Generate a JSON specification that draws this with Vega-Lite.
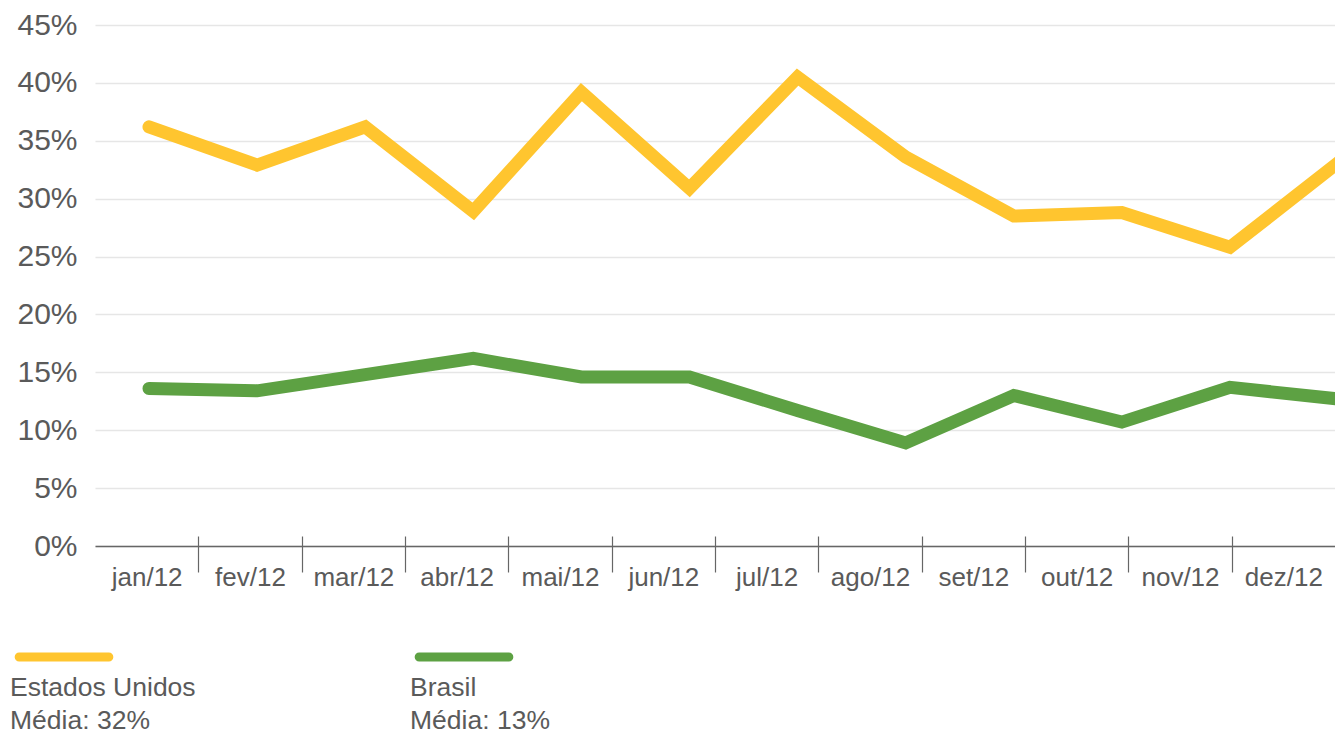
{
  "$schema": "https://vega.github.io/schema/vega-lite/v6.json",
  "background": "white",
  "padding": {"left": 10, "top": 10, "right": 0, "bottom": 0},
  "bounds": "flush",
  "spacing": 101,
  "config": {"view": {"stroke": null}, "font": "Liberation Sans"},
  "vconcat": [
    {
      "width": 1240,
      "height": 521,
      "data": {"values": [
        {"mes": "jan/12", "pais": "Estados Unidos", "valor": 0.362},
        {"mes": "fev/12", "pais": "Estados Unidos", "valor": 0.329},
        {"mes": "mar/12", "pais": "Estados Unidos", "valor": 0.362},
        {"mes": "abr/12", "pais": "Estados Unidos", "valor": 0.289},
        {"mes": "mai/12", "pais": "Estados Unidos", "valor": 0.392},
        {"mes": "jun/12", "pais": "Estados Unidos", "valor": 0.309},
        {"mes": "jul/12", "pais": "Estados Unidos", "valor": 0.405},
        {"mes": "ago/12", "pais": "Estados Unidos", "valor": 0.336},
        {"mes": "set/12", "pais": "Estados Unidos", "valor": 0.285},
        {"mes": "out/12", "pais": "Estados Unidos", "valor": 0.288},
        {"mes": "nov/12", "pais": "Estados Unidos", "valor": 0.258},
        {"mes": "dez/12", "pais": "Estados Unidos", "valor": 0.331},
        {"mes": "jan/12", "pais": "Brasil", "valor": 0.136},
        {"mes": "fev/12", "pais": "Brasil", "valor": 0.134},
        {"mes": "mar/12", "pais": "Brasil", "valor": 0.148},
        {"mes": "abr/12", "pais": "Brasil", "valor": 0.162},
        {"mes": "mai/12", "pais": "Brasil", "valor": 0.146},
        {"mes": "jun/12", "pais": "Brasil", "valor": 0.146},
        {"mes": "jul/12", "pais": "Brasil", "valor": 0.117},
        {"mes": "ago/12", "pais": "Brasil", "valor": 0.089},
        {"mes": "set/12", "pais": "Brasil", "valor": 0.130},
        {"mes": "out/12", "pais": "Brasil", "valor": 0.107},
        {"mes": "nov/12", "pais": "Brasil", "valor": 0.137},
        {"mes": "dez/12", "pais": "Brasil", "valor": 0.127}
      ]},
      "layer": [
        {
          "mark": {"type": "point", "opacity": 0},
          "encoding": {
            "x": {
              "field": "mes", "type": "ordinal",
              "scale": {"type": "band", "domain": ["jan/12","fev/12","mar/12","abr/12","mai/12","jun/12","jul/12","ago/12","set/12","out/12","nov/12","dez/12"], "paddingInner": 0, "paddingOuter": 0},
              "axis": {
                "title": null, "orient": "bottom",
                "domainColor": "#666666", "domainWidth": 1.5,
                "tickBand": "extent", "tickColor": "#666666", "tickWidth": 1.2, "tickSize": 26,
                "tickOpacity": {"condition": {"test": "datum.index < 0 || datum.value === 'dez/12'", "value": 0}, "value": 1},
                "labelFontSize": 26, "labelColor": "#5a5a5a", "labelPadding": -8, "labelAngle": 0
              }
            },
            "y": {
              "field": "valor", "type": "quantitative",
              "scale": {"domain": [0, 0.45], "nice": false},
              "axis": {
                "title": null, "values": [0, 0.05, 0.1, 0.15, 0.2, 0.25, 0.3, 0.35, 0.4, 0.45], "format": ".0%",
                "domain": false, "ticks": false,
                "grid": true, "gridColor": "#e6e6e6", "gridWidth": 1.5,
                "labelFontSize": 30, "labelColor": "#5a5a5a", "labelPadding": 18
              }
            }
          }
        },
        {
          "mark": {"type": "point", "opacity": 0},
          "encoding": {
            "x": {
              "field": "mes", "type": "ordinal",
              "scale": {"type": "band", "domain": ["jan/12","fev/12","mar/12","abr/12","mai/12","jun/12","jul/12","ago/12","set/12","out/12","nov/12","dez/12"], "paddingInner": 0, "paddingOuter": 0},
              "axis": {
                "title": null, "orient": "bottom", "labels": false, "domain": false, "grid": false,
                "tickBand": "extent", "tickColor": "#666666", "tickWidth": 1.2, "tickSize": -10,
                "tickOpacity": {"condition": {"test": "datum.index < 0 || datum.value === 'dez/12'", "value": 0}, "value": 1}
              }
            }
          }
        },
        {
          "mark": {"type": "line", "strokeWidth": 13, "strokeCap": "round", "strokeJoin": "miter", "clip": true},
          "encoding": {
            "x": {
              "field": "mes", "type": "ordinal",
              "scale": {"type": "point", "domain": ["jan/12","fev/12","mar/12","abr/12","mai/12","jun/12","jul/12","ago/12","set/12","out/12","nov/12","dez/12"], "range": [54, 1243], "padding": 0},
              "axis": null
            },
            "y": {
              "field": "valor", "type": "quantitative",
              "axis": {
                "title": null, "values": [0, 0.05, 0.1, 0.15, 0.2, 0.25, 0.3, 0.35, 0.4, 0.45], "format": ".0%",
                "domain": false, "ticks": false,
                "grid": true, "gridColor": "#e6e6e6", "gridWidth": 1.5,
                "labelFontSize": 30, "labelColor": "#5a5a5a", "labelPadding": 18
              }
            },
            "color": {
              "field": "pais", "type": "nominal",
              "scale": {"domain": ["Estados Unidos", "Brasil"], "range": ["#FFC52F", "#5DA143"]},
              "legend": null
            }
          }
        }
      ],
      "resolve": {"scale": {"x": "independent"}}
    },
    {
      "width": 800,
      "height": 20,
      "data": {"values": [
        {"pais": "Estados Unidos", "media": "Média: 32%"},
        {"pais": "Brasil", "media": "Média: 13%"}
      ]},
      "encoding": {
        "x": {
          "field": "pais", "type": "nominal", "bandPosition": 0,
          "scale": {"type": "band", "domain": ["Estados Unidos", "Brasil"], "range": [-85, 715], "paddingInner": 0, "paddingOuter": 0},
          "axis": null
        }
      },
      "layer": [
        {
          "mark": {"type": "point", "shape": "M-1,-0.1H1A0.1,0.1,0,0,1,1,0.1H-1A0.1,0.1,0,0,1,-1,-0.1Z", "size": 8050, "filled": true, "opacity": 1, "xOffset": 54},
          "encoding": {
            "color": {
              "field": "pais", "type": "nominal",
              "scale": {"domain": ["Estados Unidos", "Brasil"], "range": ["#FFC52F", "#5DA143"]},
              "legend": null
            }
          }
        },
        {
          "mark": {"type": "text", "align": "left", "baseline": "middle", "dy": 31, "fontSize": 26.5, "color": "#5a5a5a"},
          "encoding": {"text": {"field": "pais"}}
        },
        {
          "mark": {"type": "text", "align": "left", "baseline": "middle", "dy": 64, "fontSize": 26.5, "color": "#5a5a5a"},
          "encoding": {"text": {"field": "media"}}
        }
      ]
    }
  ]
}
